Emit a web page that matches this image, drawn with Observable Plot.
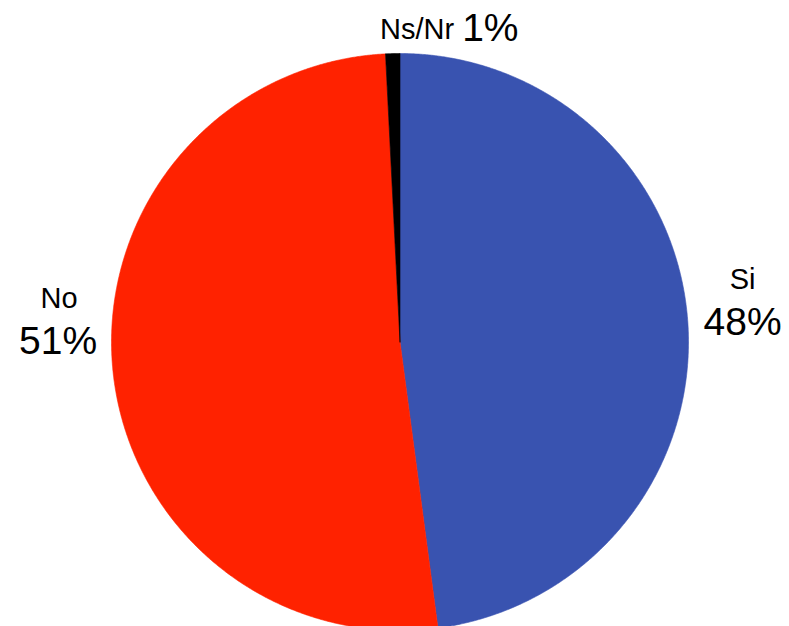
<!DOCTYPE html>
<html>
<head>
<meta charset="utf-8">
<script src="https://cdn.jsdelivr.net/npm/d3@7"></script>
<script src="https://cdn.jsdelivr.net/npm/@observablehq/plot@0.6"></script>
<style>
  html, body { margin: 0; padding: 0; background: #fff; }
  #chart svg { display: block; font-family: "Liberation Sans", Arial, sans-serif; }
</style>
</head>
<body>
<div id="chart"></div>
<script>
// ---- data ----
const categories = ["Si", "No", "Ns/Nr"];
const values = [47.9, 51.3, 0.8];
const pctLabels = ["48%", "51%", "1%"];

// ---- styles / layout ----
const colors = ["#3953b0", "#ff2200", "#000000"];
const CX = 399.5, CY = 341.5, R = 288.5;   // pixel geometry of the pie
const W = 789, H = 626;
// label layout: radius factor from centre, pixel offsets for name / percent, anchors
const layout = {
  "Si":    {r: 1.19, nameDx: 0,  nameDy: -40, pctDx: 0,  pctDy: 3,  nameAnchor: "middle", pctAnchor: "middle"},
  "No":    {r: 1.19, nameDx: 1,  nameDy: -75, pctDx: 0,  pctDy: -32, nameAnchor: "middle", pctAnchor: "middle"},
  "Ns/Nr": {r: 1.085, nameDx: 62, nameDy: 1,  pctDx: 70, pctDy: -1, nameAnchor: "end", pctAnchor: "start"}
};

// ---- build slices with d3.pie ----
const total = d3.sum(values);
const pie = d3.pie().sort(null).value(d => d.value)
  .startAngle(0).endAngle(2 * Math.PI);
const arcs = pie(categories.map((c, i) => ({category: c, value: values[i], pct: pctLabels[i]})));

const slicePts = [];
for (const a of arcs) {
  const c = a.data.category;
  slicePts.push({category: c, x: 0, y: 0});
  const n = Math.max(2, Math.ceil((a.endAngle - a.startAngle) / (Math.PI / 720)));
  for (let k = 0; k <= n; k++) {
    const t = a.startAngle + (a.endAngle - a.startAngle) * k / n;
    slicePts.push({category: c, x: Math.sin(t), y: Math.cos(t)});
  }
  slicePts.push({category: c, x: 0, y: 0});
}

const labelRows = arcs.map(a => {
  const c = a.data.category, L = layout[c];
  const mid = (a.startAngle + a.endAngle) / 2;
  const bx = L.r * Math.sin(mid), by = L.r * Math.cos(mid);
  return {
    category: c, pct: a.data.pct,
    nx: bx + L.nameDx / R, ny: by - L.nameDy / R,
    px: bx + L.pctDx / R, py: by - L.pctDy / R,
    nameAnchor: L.nameAnchor, pctAnchor: L.pctAnchor
  };
});

const textMarks = [];
for (const anchor of ["start", "middle", "end"]) {
  textMarks.push(Plot.text(labelRows.filter(d => d.nameAnchor === anchor), {
    x: "nx", y: "ny", text: "category", textAnchor: anchor,
    fontSize: 29, fill: "#000"
  }));
  textMarks.push(Plot.text(labelRows.filter(d => d.pctAnchor === anchor), {
    x: "px", y: "py", text: "pct", textAnchor: anchor,
    fontSize: 39, fill: "#000"
  }));
}

const chart = Plot.plot({
  width: W, height: H,
  marginTop: 0, marginRight: 0, marginBottom: 0, marginLeft: 0,
  x: {domain: [-1, 1], range: [CX - R, CX + R], axis: null},
  y: {domain: [-1, 1], range: [CY + R, CY - R], axis: null},
  color: {domain: categories, range: colors},
  style: {fontFamily: "'Liberation Sans', Arial, sans-serif", background: "#fff", overflow: "visible"},
  marks: [
    Plot.line(slicePts, {x: "x", y: "y", z: "category", fill: "category", stroke: "category", strokeWidth: 0.6, curve: "linear"}),
    ...textMarks
  ]
});
document.getElementById("chart").appendChild(chart);
</script>
</body>
</html>
